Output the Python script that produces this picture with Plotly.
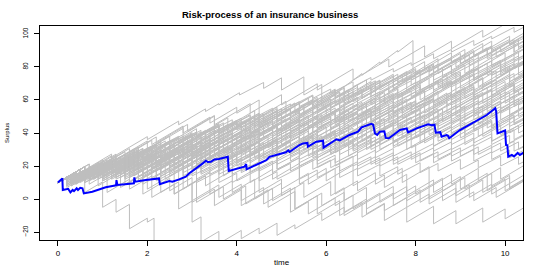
import plotly.graph_objects as go

title_text = "Risk-process of an insurance business"
x_label = "time"
y_label = "Surplus"
x_ticks = [0, 2, 4, 6, 8, 10]
y_ticks = [-20, 0, 20, 40, 60, 80, 100]
start_surplus = 10

# highlighted (blue) path: vertices
blue_t = [0, 0.1, 0.11, 0.21, 0.23, 0.28, 0.33, 0.36, 0.42, 0.45, 0.5, 0.55, 0.58, 0.77, 1.07, 1.22,
          1.30, 1.31, 1.33, 1.5, 1.70, 1.71, 1.73, 1.97, 2.1, 2.26, 2.28, 2.49, 2.56, 2.64, 2.71, 2.86,
          2.94, 3.24, 3.31, 3.35, 3.42, 3.50, 3.6, 3.80, 3.82, 4.17, 4.21, 4.22, 4.66, 4.73, 5.1, 5.15,
          5.18, 5.4, 5.48, 5.58, 5.59, 5.78, 5.93, 5.94, 6.15, 6.23, 6.3, 6.52, 6.71, 6.79, 7.01, 7.05,
          7.09, 7.14, 7.2, 7.3, 7.33, 7.4, 7.5, 7.65, 7.8, 7.83, 8.02, 8.28, 8.36, 8.42, 8.45, 8.55,
          8.58, 8.69, 8.72, 8.75, 8.99, 9.37, 9.59, 9.78, 9.80, 9.83, 9.96, 10.0, 10.02, 10.05, 10.07,
          10.15, 10.2, 10.28, 10.33, 10.4, 10.5]
blue_v = [10, 12.5, 5.5, 6, 6.2, 4, 5.5, 4.8, 6.5, 5.5, 6.8, 6.5, 3.4, 4.4, 7.1, 7.9,
          8.3, 11.5, 8.5, 9, 9.5, 13.1, 10.5, 11.5, 12, 12.5, 9, 10.9, 10.5, 11.1, 11.9, 13.5,
          15.6, 21.6, 23.2, 22.4, 22.6, 24, 24.2, 25.6, 17, 19.6, 21.2, 18, 23.6, 25.6, 28.3, 29.5,
          28.5, 32.7, 33.7, 34, 31.7, 34.7, 35.3, 31.1, 34.7, 36.2, 35.5, 38.8, 40.8, 43.4, 45.5, 45,
          39.8, 38.8, 40.8, 41, 37, 36.8, 38.8, 41.8, 42.8, 40.4, 42.8, 45.3, 44.7, 45, 40.2, 40.5,
          37.8, 38.8, 38.5, 36.8, 41.8, 47.3, 50.9, 55, 53, 39.8, 41.2, 41.5, 32.7, 32.5, 25.6,
          26.7, 25.8, 27.9, 26.7, 27.9, 28.5]

# grey paths: claim events "time surplus_before surplus_after", separated by "|"
grey_paths = [
    "0.6 19.6 16|1.3 27.2 24|2.0 35.2 30|2.8 42.8 39|3.5 50.2 45|4.3 57.8 52|5.0 63.2 57|5.8 69.8 66|6.6 78.8 72|7.4 84.8 80|8.2 92.8 86|8.8 95.6 91|9.5 102.2 98|10.5 114 114",
    "0.5 18 16|1.2 27.2 25|2.0 37.8 36|2.7 47.2 45|3.3 54.6 53|3.6 57.8 57|4.06 64.4 63|4.6 70.6 67|5.0 73.4 66|5.5 74 63|5.9 69.4 61|6.2 66 64|6.8 76 75|7.2 83 82|7.6 90 89|7.94 96 76|8.5 85 81|9.1 90.6 86|9.7 95.6 89|10.5 101.8 101.8",
    "0.4 16.4 13|1.0 22.6 19|1.7 30.2 25|2.3 34.6 29|3.0 40.2 36|3.6 45.6 40|4.3 51.2 46|4.9 55.6 50|5.6 61.2 57|6.2 66.6 61|6.9 72.2 66|7.5 75.6 72|8.2 83.2 79|8.8 88.6 83|9.5 94.2 89|10.1 98.6 94|10.5 100.4 100.4",
    "0.6 19.6 14|1.1 22 17|1.8 28.2 24|2.5 35.2 30|3.1 39.6 33|3.8 44.2 40|4.4 49.6 44|5.1 55.2 50|5.7 59.6 56|6.4 67.2 58|7.0 67.6 64|7.7 75.2 71|8.3 80.6 77|9.0 88.2 82|9.6 91.6 87|10.2 96.6 92|10.5 96.8 96.8",
    "0.3 14.8 12|0.9 21.6 19|1.5 28.6 26|2.1 35.6 33|2.8 44.2 40|3.4 49.6 46|4.0 55.6 52|4.5 60 44|5.2 55.2 50|5.8 59.6 55|6.5 66.2 61|7.1 70.6 66|7.8 77.2 72|8.4 81.6 76|9.1 87.2 83|9.7 92.6 87|10.3 96.6 91|10.5 94.2 94.2",
    "0.5 18 13|1.2 24.2 20|1.8 29.6 23|2.5 34.2 30|3.1 39.6 34|3.8 45.2 40|4.4 49.6 45|5.0 54.6 49|5.7 60.2 55|6.3 64.6 60|7.0 71.2 66|7.6 75.6 69|8.3 80.2 75|8.9 84.6 80|9.6 91.2 85|10.2 94.6 89|10.5 93.8 93.8",
    "0.2 13.2 10|0.8 19.6 16|1.4 25.6 21|2.0 30.6 26|2.7 37.2 32|3.3 41.6 36|4.0 47.2 42|4.6 51.6 47|5.3 58.2 52|5.9 61.6 56|6.6 67.2 62|7.2 71.6 66|7.9 77.2 72|8.5 81.6 76|9.2 87.2 81|9.8 90.6 86|10.5 97.2 97.2",
    "0.4 16.4 9|1.0 18.6 14|1.7 25.2 20|2.3 29.6 25|3.0 36.2 32|3.6 41.6 37|4.2 46.6 42|4.9 53.2 47|5.5 56.6 52|6.2 63.2 57|6.8 66.6 61|7.5 72.2 67|8.1 76.6 70|8.8 81.2 76|9.4 85.6 79|10.0 88.6 84|10.5 92 92",
    "0.6 19.6 15|1.3 26.2 21|1.9 30.6 25|2.6 36.2 29|3.2 38.6 33|3.9 44.2 38|4.5 47.6 43|5.2 54.2 48|5.8 57.6 52|6.5 63.2 58|7.1 67.6 62|7.8 73.2 66|8.4 75.6 70|9.1 81.2 76|9.7 85.6 80|10.3 89.6 84|10.5 87.2 87.2",
    "0.3 14.8 11|0.9 20.6 17|1.6 28.2 23|2.2 32.6 27|2.9 38.2 32|3.5 41.6 36|4.2 47.2 41|4.8 50.6 45|5.5 56.2 51|6.1 60.6 55|6.8 66.2 61|7.4 70.6 65|8.0 74.6 70|8.6 79.6 74|9.2 83.6 68|9.8 77.6 73|10.5 84.2 84.2",
    "0.5 18 12|1.1 21.6 17|1.8 28.2 22|2.4 31.6 26|3.1 37.2 30|3.7 39.6 34|4.4 45.2 40|5.0 49.6 44|5.7 55.2 49|6.3 58.6 53|7.0 64.2 58|7.6 67.6 62|8.3 73.2 67|8.9 76.6 71|9.6 82.2 75|10.2 84.6 79|10.5 83.8 83.8",
    "0.2 13.2 9|0.8 18.6 14|1.5 25.2 20|2.1 29.6 24|2.8 35.2 29|3.4 38.6 33|4.1 44.2 37|4.7 46.6 41|5.4 52.2 46|6.0 55.6 50|6.7 61.2 55|7.3 64.6 58|8.0 69.2 63|8.6 72.6 67|9.3 78.2 72|9.9 81.6 75|10.5 84.6 84.6",
    "0.4 16.4 14|1.0 23.6 21|1.6 30.6 28|2.2 37.6 34|2.9 45.2 41|3.5 50.6 33|4.1 42.6 38|4.8 49.2 43|5.4 52.6 47|6.1 58.2 52|6.7 61.6 56|7.4 67.2 61|8.0 70.6 64|8.7 75.2 69|9.3 78.6 73|10.0 84.2 77|10.5 85 85",
    "0.6 19.6 13|1.2 22.6 18|1.9 29.2 22|2.5 31.6 26|3.2 37.2 31|3.8 40.6 34|4.5 45.2 39|5.1 48.6 42|5.8 53.2 47|6.4 56.6 50|7.1 61.2 55|7.7 64.6 58|8.4 69.2 63|9.0 72.6 67|9.7 78.2 71|10.3 80.6 75|10.5 78.2 78.2",
    "0.3 14.8 10|1.0 21.2 16|1.6 25.6 20|2.3 31.2 25|2.9 34.6 28|3.6 39.2 33|4.2 42.6 36|4.9 47.2 41|5.5 50.6 44|6.2 55.2 49|6.8 58.6 52|7.5 63.2 57|8.1 66.6 60|8.8 71.2 65|9.4 74.6 68|10.1 79.2 73|10.5 79.4 79.4",
    "0.5 18 14|1.1 23.6 19|1.7 28.6 24|2.4 35.2 30|3.0 39.6 35|3.7 46.2 39|4.3 48.6 40|5.0 51.2 41|5.6 50.6 43|6.3 54.2 47|6.9 56.6 51|7.6 62.2 56|8.2 65.6 60|8.9 71.2 64|9.5 73.6 68|10.1 77.6 71|10.5 77.4 77.4",
    "0.4 16.4 10|1.0 19.6 15|1.7 26.2 20|2.3 29.6 23|3.0 34.2 28|3.6 37.6 31|4.3 42.2 36|4.9 45.6 39|5.6 50.2 44|6.2 53.6 47|6.9 58.2 52|7.5 61.6 55|8.2 66.2 59|8.8 68.6 62|9.5 73.2 66|10.1 75.6 69|10.5 75.4 75.4",
    "0.7 21.2 15|1.3 24.6 19|2.0 30.2 23|2.6 32.6 26|3.3 37.2 30|3.9 39.6 33|4.6 44.2 37|5.2 46.6 40|5.9 51.2 44|6.5 53.6 47|7.2 58.2 51|7.8 60.6 54|8.5 65.2 58|9.1 67.6 61|9.8 72.2 65|10.5 76.2 76.2",
    "0.3 14.8 9|0.9 18.6 14|1.5 23.6 18|2.2 29.2 22|2.8 31.6 25|3.5 36.2 29|4.1 38.6 32|4.8 43.2 36|5.4 45.6 39|6.1 50.2 43|6.7 52.6 46|7.4 57.2 50|8.0 59.6 53|8.7 64.2 57|9.3 66.6 60|10.0 71.2 64|10.5 72 72",
    "0.5 18 15|1.2 26.2 22|1.8 31.6 27|2.5 38.2 33|3.1 42.6 38|3.8 49.2 44|4.4 53.6 48|5.1 59.2 53|5.7 62.6 57|6.4 68.2 45|7.0 54.6 48|7.7 59.2 52|8.3 61.6 55|9.0 66.2 58|9.6 67.6 61|10.2 70.6 64|10.5 68.8 68.8",
    "0.4 16.4 11|1.1 22.2 15|1.7 24.6 19|2.4 30.2 23|3.0 32.6 26|3.7 37.2 29|4.3 38.6 32|5.0 43.2 36|5.6 45.6 39|6.3 50.2 42|6.9 51.6 45|7.6 56.2 49|8.2 58.6 52|8.9 63.2 55|9.5 64.6 58|10.2 69.2 62|10.5 66.8 66.8",
    "0.6 19.6 13|1.2 22.6 16|1.9 27.2 20|2.5 29.6 23|3.2 34.2 27|3.8 36.6 30|4.5 41.2 33|5.1 42.6 36|5.8 47.2 40|6.4 49.6 42|7.1 53.2 46|7.7 55.6 49|8.4 60.2 52|9.0 61.6 55|9.7 66.2 58|10.5 70.8 70.8",
    "0.3 14.8 10|0.9 19.6 14|1.6 25.2 18|2.2 27.6 21|2.9 32.2 25|3.5 34.6 27|4.2 38.2 31|4.8 40.6 34|5.5 45.2 37|6.1 46.6 40|6.8 51.2 43|7.4 52.6 46|8.1 57.2 49|8.7 58.6 52|9.4 63.2 55|10.0 64.6 58|10.5 66 66",
    "0.5 18 11|1.1 20.6 15|1.8 26.2 19|2.4 28.6 21|3.1 32.2 25|3.7 34.6 28|4.4 39.2 30|5.0 39.6 33|5.7 44.2 36|6.3 45.6 39|7.0 50.2 42|7.6 51.6 44|8.3 55.2 47|8.9 56.6 50|9.6 61.2 53|10.2 62.6 56|10.5 60.8 60.8",
    "0.2 13.2 8|0.8 17.6 12|1.5 23.2 16|2.1 25.6 19|2.8 30.2 22|3.4 31.6 25|4.1 36.2 28|4.7 37.6 31|5.4 42.2 34|6.0 43.6 36|6.7 47.2 39|7.3 48.6 42|8.0 53.2 45|8.6 54.6 47|9.3 58.2 50|9.9 59.6 53|10.5 62.6 62.6",
    "0.6 19.6 12|1.3 23.2 16|1.9 25.6 18|2.6 29.2 21|3.2 30.6 24|3.9 35.2 27|4.5 36.6 29|5.2 40.2 32|5.8 41.6 34|6.5 45.2 37|7.1 46.6 39|7.8 50.2 42|8.4 51.6 45|9.1 56.2 48|9.7 57.6 50|10.5 62.8 62.8",
    "0.4 16.4 10|1.0 19.6 13|1.7 24.2 17|2.3 26.6 19|3.0 30.2 22|3.6 31.6 24|4.3 35.2 27|4.9 36.6 30|5.6 41.2 32|6.2 41.6 35|6.9 46.2 37|7.5 46.6 40|8.2 51.2 43|8.8 52.6 45|9.5 56.2 48|10.1 57.6 50|10.5 56.4 56.4",
    "0.3 14.8 8|1.0 19.2 12|1.6 21.6 15|2.3 26.2 18|2.9 27.6 20|3.6 31.2 23|4.2 32.6 25|4.9 36.2 28|5.5 37.6 30|6.2 41.2 33|6.8 42.6 35|7.5 46.2 38|8.1 47.6 40|8.8 51.2 43|9.4 52.6 45|10.1 56.2 48|10.5 54.4 54.4",
    "0.5 18 10|1.2 21.2 14|1.8 23.6 16|2.5 27.2 19|3.1 28.6 21|3.8 32.2 24|4.4 33.6 25|5.1 36.2 28|5.7 37.6 30|6.4 41.2 32|7.0 41.6 34|7.7 45.2 37|8.3 46.6 39|9.0 50.2 41|9.6 50.6 43|10.5 57.4 57.4",
    "0.7 21.2 13|1.3 22.6 15|2.0 26.2 17|2.6 26.6 19|3.3 30.2 21|3.9 30.6 23|4.6 34.2 25|5.2 34.6 27|5.9 38.2 29|6.5 38.6 31|7.2 42.2 33|7.8 42.6 35|8.5 46.2 37|9.1 46.6 39|9.8 50.2 41|10.5 52.2 52.2",
    "0.4 16.4 9|1.0 18.6 12|1.7 23.2 14|2.3 23.6 16|3.0 27.2 18|3.6 27.6 20|4.3 31.2 22|4.9 31.6 24|5.6 35.2 26|6.2 35.6 28|6.9 39.2 30|7.5 39.6 32|8.2 43.2 34|8.8 43.6 36|9.5 47.2 38|10.1 47.6 40|10.5 46.4 46.4",
    "0.6 19.6 11|1.3 22.2 13|1.9 22.6 15|2.6 26.2 16|3.2 25.6 18|3.9 29.2 20|4.5 29.6 21|5.2 32.2 23|5.8 32.6 25|6.5 36.2 26|7.1 35.6 28|7.8 39.2 30|8.4 39.6 32|9.1 43.2 33|9.7 42.6 35|10.5 47.8 47.8",
    "0.3 14.2 12|0.7 17.6 16|1.2 23 21|1.6 26.6 25|2.1 32 28|2.5 33.6 32|3.0 39 37|3.4 42.6 41|3.9 48 45|4.3 50.6 48|4.8 55 52|5.2 57.6 56|5.7 63 61|6.1 66.6 64|6.6 71 68|7.0 73.6 72|7.5 79 77|7.9 82.6 81|8.4 88 85|8.8 90.6 89|9.3 96 93|9.7 98.6 97|10.2 104 101|10.5 105.2 105.2",
    "0.2 12.8 12|0.6 17.6 16|1.0 21.6 20|1.5 27 24|1.9 29.6 27|2.3 32.6 31|2.8 38 35|3.2 40.6 37|3.6 42.6 40|4.1 47 42|4.5 47.6 45|4.9 50.6 47|5.4 54 51|5.8 56.6 54|6.2 59.6 58|6.7 65 63|7.1 68.6 67|7.5 72.6 71|8.0 78 75|8.4 80.6 79|8.8 84.6 82|9.3 89 86|9.7 91.6 90|10.1 95.6 93|10.5 98.6 98.6",
    "0.4 15.6 14|0.9 21 18|1.3 23.6 22|1.8 29 26|2.2 31.6 30|2.7 37 34|3.1 39.6 37|3.6 44 41|4.0 46.6 44|4.5 51 38|4.9 43.6 41|5.4 48 45|5.8 50.6 48|6.3 55 52|6.7 57.6 55|7.2 62 59|7.6 64.6 62|8.1 69 66|8.5 71.6 70|9.0 77 74|9.4 79.6 77|9.9 84 81|10.3 86.6 85|10.5 87.8 87.8",
    "0.3 14.2 10|0.7 15.6 13|1.2 20 16|1.6 21.6 19|2.1 26 23|2.5 28.6 26|3.0 33 30|3.4 35.6 33|3.9 40 37|4.3 42.6 40|4.8 47 44|5.2 49.6 47|5.7 54 52|6.1 57.6 55|6.6 62 59|7.0 64.6 62|7.5 69 66|7.9 71.6 69|8.4 76 72|8.8 77.6 75|9.3 82 78|9.7 83.6 81|10.2 88 84|10.5 88.2 88.2",
    "0.2 12.8 12|0.6 17.6 15|1.0 20.6 18|1.5 25 22|1.9 27.6 25|2.3 30.6 28|2.8 35 32|3.2 37.6 36|3.6 41.6 39|4.1 46 43|4.5 48.6 46|4.9 51.6 48|5.4 55 40|5.8 45.6 43|6.2 48.6 46|6.7 53 50|7.1 55.6 54|7.5 59.6 58|8.0 65 62|8.4 67.6 65|8.8 70.6 68|9.3 75 72|9.7 77.6 75|10.1 80.6 78|10.5 83.6 83.6",
    "0.4 15.6 11|0.9 18 15|1.3 20.6 17|1.8 24 21|2.2 26.6 23|2.7 30 27|3.1 32.6 29|3.6 36 33|4.0 38.6 35|4.5 42 39|4.9 44.6 42|5.4 49 45|5.8 50.6 48|6.3 55 51|6.7 56.6 54|7.2 61 58|7.6 63.6 61|8.1 68 65|8.5 70.6 68|9.0 75 71|9.4 76.6 74|9.9 81 77|10.3 82.6 80|10.5 82.8 82.8",
    "0.3 14.2 12|0.7 17.6 16|1.2 23 20|1.6 25.6 23|2.1 30 26|2.5 31.6 28|3.0 35 31|3.4 36.6 33|3.9 40 35|4.3 40.6 37|4.8 44 39|5.2 44.6 41|5.7 48 43|6.1 48.6 45|6.6 52 48|7.0 53.6 50|7.5 57 53|7.9 58.6 56|8.4 63 59|8.8 64.6 62|9.3 69 66|9.7 71.6 69|10.2 76 72|10.5 76.2 76.2",
    "0.2 12.8 9|0.6 14.6 12|1.0 17.6 14|1.5 21 17|1.9 22.6 20|2.3 25.6 23|2.8 30 27|3.2 32.6 30|3.6 35.6 33|4.1 40 36|4.5 41.6 39|4.9 44.6 41|5.4 48 44|5.8 49.6 46|6.2 51.6 48|6.7 55 51|7.1 56.6 53|7.5 58.6 55|8.0 62 57|8.4 62.6 59|8.8 64.6 61|9.3 68 63|9.7 68.6 65|10.1 70.6 68|10.5 73.6 73.6",
    "0.4 15.6 13|0.9 20 16|1.3 21.6 18|1.8 25 21|2.2 26.6 23|2.7 30 26|3.1 31.6 28|3.6 35 31|4.0 36.6 33|4.5 40 36|4.9 41.6 38|5.4 45 41|5.8 46.6 43|6.3 50 46|6.7 51.6 48|7.2 55 42|7.6 47.6 45|8.1 52 48|8.5 53.6 51|9.0 58 54|9.4 59.6 57|9.9 64 60|10.3 65.6 63|10.5 65.8 65.8",
    "0.3 14.2 13|0.7 18.6 15|1.2 22 18|1.6 23.6 20|2.1 27 23|2.5 28.6 25|3.0 32 28|3.4 33.6 30|3.9 37 33|4.3 38.6 35|4.8 42 38|5.2 43.6 41|5.7 48 44|6.1 49.6 46|6.6 53 48|7.0 53.6 50|7.5 57 52|7.9 57.6 54|8.4 61 56|8.8 61.6 58|9.3 65 61|9.7 66.6 63|10.2 70 65|10.5 69.2 69.2",
    "0.2 12.8 10|0.6 15.6 12|1.0 17.6 14|1.5 21 16|1.9 21.6 18|2.3 23.6 20|2.8 27 22|3.2 27.6 23|3.6 28.6 25|4.1 32 27|4.5 32.6 29|4.9 34.6 31|5.4 38 34|5.8 39.6 36|6.2 41.6 39|6.7 46 42|7.1 47.6 45|7.5 50.6 47|8.0 54 50|8.4 55.6 52|8.8 57.6 54|9.3 61 57|9.7 62.6 59|10.1 64.6 61|10.5 66.6 66.6",
    "0.4 15.6 14|0.9 21 16|1.3 21.6 18|1.8 25 21|2.2 26.6 22|2.7 29 25|3.1 30.6 26|3.6 33 28|4.0 33.6 30|4.5 37 32|4.9 37.6 34|5.4 41 36|5.8 41.6 38|6.3 45 41|6.7 46.6 43|7.2 50 45|7.6 50.6 47|8.1 54 49|8.5 54.6 44|9.0 51 47|9.4 52.6 49|9.9 56 52|10.3 57.6 54|10.5 56.8 56.8",
    "0.3 14.2 10|0.7 15.6 12|1.2 19 14|1.6 19.6 16|2.1 23 18|2.5 23.6 20|3.0 27 22|3.4 27.6 24|3.9 31 26|4.3 31.6 28|4.8 35 30|5.2 35.6 32|5.7 39 34|6.1 39.6 36|6.6 43 39|7.0 44.6 41|7.5 48 44|7.9 49.6 46|8.4 53 48|8.8 53.6 50|9.3 57 53|9.7 58.6 55|10.2 62 57|10.5 61.2 61.2",
    "0.2 12.8 11|0.6 16.6 14|1.0 19.6 16|1.5 23 19|1.9 24.6 21|2.3 26.6 22|2.8 29 24|3.2 29.6 26|3.6 31.6 27|4.1 34 29|4.5 34.6 30|4.9 35.6 31|5.4 38 32|5.8 37.6 34|6.2 39.6 35|6.7 42 37|7.1 42.6 39|7.5 44.6 41|8.0 48 43|8.4 48.6 44|8.8 49.6 46|9.3 53 48|9.7 53.6 50|10.1 55.6 51|10.5 56.6 56.6",
    "0.4 15.6 11|0.9 18 13|1.3 18.6 15|1.8 22 17|2.2 22.6 18|2.7 25 20|3.1 25.6 21|3.6 28 22|4.0 27.6 23|4.5 30 25|4.9 30.6 26|5.4 33 28|5.8 33.6 30|6.3 37 32|6.7 37.6 34|7.2 41 36|7.6 41.6 38|8.1 45 40|8.5 45.6 42|9.0 49 44|9.4 49.6 46|9.9 53 48|10.3 53.6 50|10.5 52.8 52.8",
    "0.3 14.2 12|0.7 17.6 14|1.2 21 16|1.6 21.6 18|2.1 25 20|2.5 25.6 22|3.0 29 24|3.4 29.6 25|3.9 32 27|4.3 32.6 28|4.8 35 30|5.2 35.6 31|5.7 38 25|6.1 30.6 27|6.6 34 30|7.0 35.6 32|7.5 39 34|7.9 39.6 36|8.4 43 38|8.8 43.6 40|9.3 47 42|9.7 47.6 44|10.2 51 46|10.5 50.2 50.2",
    "0.2 12.8 8|0.6 13.6 10|1.0 15.6 11|1.5 18 13|1.9 18.6 14|2.3 19.6 16|2.8 23 18|3.2 23.6 19|3.6 24.6 21|4.1 28 23|4.5 28.6 24|4.9 29.6 26|5.4 33 27|5.8 32.6 29|6.2 34.6 30|6.7 37 32|7.1 37.6 34|7.5 39.6 35|8.0 42 37|8.4 42.6 39|8.8 44.6 40|9.3 47 42|9.7 47.6 43|10.1 48.6 44|10.5 49.6 49.6",
    "0.4 15.6 13|0.9 20 15|1.3 20.6 16|1.8 23 18|2.2 23.6 19|2.7 26 20|3.1 25.6 21|3.6 28 22|4.0 27.6 22|4.5 29 23|4.9 28.6 23|5.4 30 24|5.8 29.6 25|6.3 32 27|6.7 32.6 28|7.2 35 30|7.6 35.6 32|8.1 39 34|8.5 39.6 35|9.0 42 37|9.4 42.6 38|9.9 45 39|10.3 44.6 40|10.5 42.8 42.8",
    "0.3 14.2 11|0.7 16.6 12|1.2 19 13|1.6 18.6 14|2.1 21 16|2.5 21.6 17|3.0 24 19|3.4 24.6 20|3.9 27 22|4.3 27.6 23|4.8 30 25|5.2 30.6 26|5.7 33 27|6.1 32.6 28|6.6 35 29|7.0 34.6 30|7.5 37 31|7.9 36.6 31|8.4 38 32|8.8 37.6 33|9.3 40 34|9.7 39.6 35|10.2 42 36|10.5 40.2 40.2",
    "0.2 12.8 9|0.6 14.6 10|1.0 15.6 11|1.5 18 12|1.9 17.6 13|2.3 18.6 14|2.8 21 14|3.2 19.6 15|3.6 20.6 15|4.1 22 16|4.5 21.6 17|4.9 22.6 18|5.4 25 20|5.8 25.6 21|6.2 26.6 22|6.7 29 24|7.1 29.6 25|7.5 30.6 26|8.0 33 28|8.4 33.6 29|8.8 34.6 30|9.3 37 32|9.7 37.6 33|10.1 38.6 34|10.5 39.6 39.6",
    "0.4 15.6 13|0.9 20 14|1.3 19.6 15|1.8 22 16|2.2 21.6 17|2.7 24 18|3.1 23.6 18|3.6 25 19|4.0 24.6 20|4.5 27 21|4.9 26.6 21|5.4 28 22|5.8 27.6 23|6.3 30 17|6.7 22.6 18|7.2 25 20|7.6 25.6 21|8.1 28 23|8.5 28.6 24|9.0 31 26|9.4 31.6 27|9.9 34 29|10.3 34.6 30|10.5 32.8 32.8",
    "0.3 14.2 10|0.7 15.6 11|1.2 18 12|1.6 17.6 13|2.1 20 13|2.5 18.6 14|3.0 21 14|3.4 19.6 15|3.9 22 15|4.3 20.6 16|4.8 23 16|5.2 21.6 17|5.7 24 18|6.1 23.6 19|6.6 26 20|7.0 25.6 21|7.5 28 23|7.9 28.6 24|8.4 31 25|8.8 30.6 26|9.3 33 27|9.7 32.6 28|10.2 35 29|10.5 33.2 33.2",
    "0.2 12.8 12|0.6 17.6 13|1.0 18.6 14|1.5 21 14|1.9 19.6 15|2.3 20.6 15|2.8 22 16|3.2 21.6 16|3.6 21.6 17|4.1 24 17|4.5 22.6 18|4.9 23.6 18|5.4 25 19|5.8 24.6 19|6.2 24.6 20|6.7 27 20|7.1 25.6 21|7.5 26.6 21|8.0 28 22|8.4 27.6 22|8.8 27.6 23|9.3 30 23|9.7 28.6 24|10.1 29.6 25|10.5 30.6 30.6",
    "0.4 15.6 11|0.9 18 12|1.3 17.6 12|1.8 19 12|2.2 17.6 11|2.7 18 11|3.1 16.6 10|3.6 17 10|4.0 15.6 11|4.5 18 11|4.9 16.6 12|5.4 19 12|5.8 17.6 13|6.3 20 13|6.7 18.6 14|7.2 21 14|7.6 19.6 15|8.1 22 16|8.5 21.6 17|9.0 24 18|9.4 23.6 19|9.9 26 20|10.3 25.6 21|10.5 23.8 23.8",
    "0.3 14.2 13|0.7 18.6 17|1.2 24 21|1.6 26.6 24|2.1 31 29|2.5 34.6 32|3.0 39 36|3.4 41.6 39|3.9 46 42|4.3 47.6 45|4.8 52 49|5.2 54.6 52|5.7 59 55|6.1 60.6 58|6.6 65 62|7.0 67.6 65|7.5 72 69|7.9 74.6 72|8.4 79 75|8.8 80.6 78|9.3 85 82|9.7 87.6 85|10.2 92 88|10.5 92.2 92.2",
    "0.2 12.8 11|0.6 16.6 14|1.0 19.6 17|1.5 24 21|1.9 26.6 24|2.3 29.6 26|2.8 33 29|3.2 34.6 32|3.6 37.6 34|4.1 41 36|4.5 41.6 39|4.9 44.6 41|5.4 48 44|5.8 49.6 47|6.2 52.6 50|6.7 57 53|7.1 58.6 48|7.5 53.6 51|8.0 58 55|8.4 60.6 58|8.8 63.6 61|9.3 68 65|9.7 70.6 68|10.1 73.6 71|10.5 76.6 76.6",
    "0.4 15.6 14|0.9 21 19|1.3 24.6 22|1.8 29 27|2.2 32.6 30|2.7 37 34|3.1 39.6 37|3.6 44 40|4.0 45.6 42|4.5 49 45|4.9 50.6 47|5.4 54 50|5.8 55.6 53|6.3 60 56|6.7 61.6 58|7.2 65 61|7.6 66.6 63|8.1 70 66|8.5 71.6 69|9.0 76 73|9.4 78.6 76|9.9 83 79|10.3 84.6 82|10.5 84.8 84.8",
    "0.3 14.2 11|0.7 16.6 13|1.2 20 16|1.6 21.6 18|2.1 25 21|2.5 26.6 23|3.0 30 26|3.4 31.6 28|3.9 35 30|4.3 35.6 32|4.8 39 35|5.2 40.6 37|5.7 44 40|6.1 45.6 42|6.6 49 45|7.0 50.6 47|7.5 54 50|7.9 55.6 52|8.4 59 55|8.8 60.6 57|9.3 64 60|9.7 65.6 62|10.2 69 65|10.5 69.2 69.2",
    "0.2 12.8 12|0.6 17.6 16|1.0 21.6 20|1.5 27 25|1.9 30.6 28|2.3 33.6 32|2.8 39 36|3.2 41.6 39|3.6 44.6 42|4.1 49 46|4.5 51.6 49|4.9 54.6 52|5.4 59 56|5.8 61.6 59|6.2 64.6 62|6.7 69 66|7.1 71.6 69|7.5 74.6 72|8.0 79 76|8.4 81.6 80|8.8 85.6 83|9.3 90 87|9.7 92.6 91|10.1 96.6 94|10.5 99.6 99.6",
    "0.4 15.6 12|0.9 19 15|1.3 20.6 17|1.8 24 20|2.2 25.6 22|2.7 29 24|3.1 29.6 26|3.6 33 27|4.0 32.6 28|4.5 35 30|4.9 35.6 31|5.4 38 33|5.8 38.6 35|6.3 42 37|6.7 42.6 39|7.2 46 41|7.6 46.6 43|8.1 50 45|8.5 50.6 47|9.0 54 50|9.4 55.6 52|9.9 59 55|10.3 60.6 57|10.5 59.8 59.8",
    "0.3 14.2 12|0.7 17.6 15|1.2 22 19|1.6 24.6 22|2.1 29 26|2.5 31.6 29|3.0 36 32|3.4 37.6 35|3.9 42 38|4.3 43.6 40|4.8 47 43|5.2 48.6 46|5.7 53 49|6.1 54.6 51|6.6 58 54|7.0 59.6 57|7.5 64 60|7.9 65.6 62|8.4 69 66|8.8 71.6 69|9.3 76 72|9.7 77.6 75|10.2 82 79|10.5 83.2 83.2",
    "0.2 12.8 11|0.6 16.6 13|1.0 18.6 16|1.5 23 19|1.9 24.6 21|2.3 26.6 24|2.8 31 27|3.2 32.6 29|3.6 34.6 31|4.1 38 34|4.5 39.6 36|4.9 41.6 38|5.4 45 41|5.8 46.6 43|6.2 48.6 45|6.7 52 48|7.1 53.6 50|7.5 55.6 52|8.0 59 55|8.4 60.6 57|8.8 62.6 60|9.3 67 52|9.7 57.6 55|10.1 60.6 58|10.5 63.6 63.6",
    "0.4 15.6 14|0.9 21 19|1.3 24.6 23|1.8 30 28|2.2 33.6 31|2.7 38 35|3.1 40.6 38|3.6 45 42|4.0 47.6 45|4.5 52 48|4.9 53.6 51|5.4 58 55|5.8 60.6 58|6.3 65 62|6.7 67.6 65|7.2 72 68|7.6 73.6 71|8.1 78 75|8.5 80.6 78|9.0 85 82|9.4 87.6 85|9.9 92 89|10.3 94.6 92|10.5 94.8 94.8",
    "0.3 14.2 11|0.7 16.6 13|1.2 20 15|1.6 20.6 17|2.1 24 19|2.5 24.6 20|3.0 27 22|3.4 27.6 23|3.9 30 25|4.3 30.6 26|4.8 33 27|5.2 32.6 28|5.7 35 30|6.1 35.6 31|6.6 38 32|7.0 37.6 34|7.5 41 35|7.9 40.6 36|8.4 43 38|8.8 43.6 39|9.3 46 41|9.7 46.6 43|10.2 50 45|10.5 49.2 49.2",
    "0.3 14.8 9|0.8 17 13|1.4 22.6 15|2.0 24.6 14|2.5 22 16|3.1 25.6 12|3.7 21.6 14|4.3 23.6 10|4.8 18 12|5.4 21.6 9|6.0 18.6 11|6.6 20.6 8|7.1 16 9|7.7 18.6 10|8.3 19.6 7|8.8 15 9|9.4 18.6 11|9.9 19 12|10.5 21.6 21.6",
    "0.5 18 11|1.0 19 13|1.6 22.6 10|2.2 19.6 12|2.8 21.6 6|3.3 14 8|3.9 17.6 10|4.5 19.6 4|5.0 12 6|5.6 15.6 9|6.2 18.6 3|6.7 11 5|7.3 14.6 7|7.8 15 2|8.4 11.6 4|9.0 13.6 6|9.6 15.6 5|10.1 13 7|10.5 13.4 13.4",
    "0.3 14.8 10|0.8 18 12|1.3 20 13|1.8 21 11|2.4 20.6 12|2.9 20 8|3.4 16 3|3.9 11 4|4.4 12 0|5.0 9.6 2|5.5 10 1|6.1 10.6 2|6.4 6.8 -1|6.9 7 -2|7.5 7.6 0|8.0 8 3|8.6 12.6 5|9.1 13 6|9.7 15.6 8|10.1 14.4 6|10.5 12.4 12.4",
    "0.2 13.2 7|0.7 15 9|1.1 15.4 4|1.6 12 6|2.1 14 1|2.6 9 3|3.1 11 -2|3.7 7.6 0|4.2 8 -3|4.8 6.6 -1|5.3 7 -6|5.9 3.6 -4|6.4 4 -8|6.9 0 -6|7.5 3.6 -4|8.1 5.6 -2|8.6 6 -1|9.2 8.6 1|9.7 9 3|10.5 15.8 15.8",
    "0.5 18 13|1.0 21 12|1.5 20 9|2.0 17 6|2.6 15.6 3|3.0 9.4 -2|3.5 6 -4|4.1 5.6 -1|4.6 7 -3|5.2 6.6 -8|5.6 -1.6 -9|6.2 0.6 -4|6.6 2.4 -6|7.2 3.6 -2|7.8 7.6 -1|8.3 7 0|8.9 9.6 2|9.5 11.6 4|10.0 12 5|10.5 13 13",
    "0.4 16.4 10|0.9 18 8|1.4 16 7|1.9 15 3|2.5 12.6 5|3.0 13 -1|3.6 8.6 1|4.1 9 -4|4.7 5.6 -5|5.3 4.6 -6|5.8 2 -9|6.3 -1 -10|6.8 -2 -11|7.3 -3 -13|7.8 -5 -14|8.4 -4.4 -15|8.9 -7 -15|9.5 -5.4 -14|10.0 -6 -12|10.5 -4 -4",
    "0.4 16.4 12|0.9 20 14|1.4 22 13|1.9 21 9|2.3 15.4 4|2.7 10.4 -6|3.0 -1.2 -14|3.2 -10.8 -26|3.6 -19.6 -27|4.1 -19 -24|4.5 -17.6 -21|4.9 -14.6 -22|5.3 -15.6 -18|5.9 -8.4 -13|6.4 -5 -10|6.9 -2 -9|7.3 -2.6 -7|7.8 1 -5|8.3 3 -3|8.9 6.6 -2|9.3 4.4 -1|9.8 7 1|10.5 12.2 12.2",
    "0.3 14.8 8|0.6 12.8 4|1.0 10.4 -5|1.3 -0.2 -8|1.6 -3.2 -18|2.0 -11.6 -14|2.15 -11.6 -40|3.0 -26 -26",
]

font_family = "Liberation Sans, Arial, Helvetica, sans-serif"

gx, gy = [], []
for path in grey_paths:
    gx.append(0)
    gy.append(start_surplus)
    for ev in path.split("|"):
        t, a, b = (float(s) for s in ev.split())
        gx += [t, t]
        gy += [a, b]
    gx.append(None)
    gy.append(None)

fig = go.Figure()
fig.add_trace(go.Scatter(x=gx, y=gy, mode="lines", line=dict(color="#BEBEBE", width=1),
                         hoverinfo="skip", showlegend=False, connectgaps=False))
fig.add_trace(go.Scatter(x=blue_t, y=blue_v, mode="lines", line=dict(color="#0000FF", width=2),
                         showlegend=False))

axis_common = dict(showline=True, mirror=True, linecolor="black", linewidth=1,
                   ticks="outside", ticklen=5, tickcolor="black", tickwidth=1,
                   showgrid=False, zeroline=False)

fig.update_layout(
    width=545, height=273,
    margin=dict(l=40, r=22, t=26, b=33),
    paper_bgcolor="white", plot_bgcolor="white",
    hovermode=False,
    xaxis=dict(range=[-0.4, 10.4], tickvals=x_ticks,
               tickfont=dict(family=font_family, size=8, color="black"), **axis_common),
    yaxis=dict(range=[-24.8, 104.8], tickvals=y_ticks, tickangle=-90, ticklabelstandoff=3,
               tickfont=dict(family=font_family, size=6.5, color="black"), **axis_common),
    annotations=[
        dict(text="<b>" + title_text + "</b>", xref="paper", yref="paper", x=0.476, y=1.0,
             yshift=12, xanchor="center", yanchor="middle", showarrow=False,
             font=dict(family=font_family, size=9.5, color="black")),
        dict(text=x_label, xref="paper", yref="paper", x=0.5, y=0, yshift=-22,
             xanchor="center", yanchor="middle", showarrow=False,
             font=dict(family=font_family, size=8, color="black")),
        dict(text=y_label, xref="paper", yref="paper", x=0, y=0.5, xshift=-33,
             xanchor="center", yanchor="middle", textangle=-90, showarrow=False,
             font=dict(family=font_family, size=6, color="black")),
    ],
)

fig.write_html("out.html", config={"displayModeBar": False, "staticPlot": True},
               post_script="document.body.style.margin='0';document.body.style.overflow='hidden';")
